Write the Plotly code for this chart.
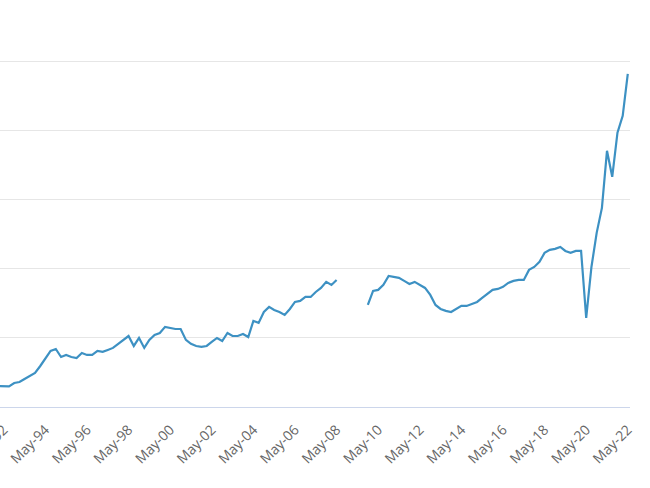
import pandas as pd
import plotly.graph_objects as go

# Quarterly observation dates, Feb-1992 .. May-2022
dates = pd.date_range("1992-02-01", "2022-05-01", freq="3MS")

values = [
    15.2, 15.2, 14.9, 17.4, 18.1, 20.3, 22.5, 24.6, 29.7, 35.5,
    40.6, 42.0, 36.2, 37.7, 36.2, 35.5, 39.1, 37.7, 37.7, 40.6,
    39.9, 41.3, 42.8, 45.7, 48.6, 51.4, 44.2, 50.0, 42.8, 48.6,
    52.2, 53.6, 58.0, 57.2, 56.5, 56.5, 48.6, 45.7, 44.2, 43.5,
    44.2, 47.1, 50.0, 47.8, 53.6, 51.4, 51.4, 52.9, 50.7, 62.3,
    60.9, 68.8, 72.5, 70.3, 68.8, 66.7, 71.0, 76.1, 76.8, 79.7,
    79.7, 83.3, 86.2, 90.6, 88.4, 92.0, None, None, None, None,
    None, 73.9, 84.1, 84.8, 88.4, 94.9, 94.2, 93.5, 91.3, 89.1,
    90.6, 88.4, 86.2, 81.2, 73.9, 71.0, 69.6, 68.8, 71.0, 73.2,
    73.2, 74.6, 76.1, 79.0, 81.9, 84.8, 85.5, 87.0, 89.9, 91.3,
    92.0, 92.0, 99.3, 101.4, 105.1, 111.6, 113.8, 114.5, 115.9, 113.0,
    111.6, 113.0, 113.0, 64.5, 101.4, 126.1, 144.2, 185.5, 166.7, 198.6,
    210.9, 241.3,
]

tick_dates = ["%d-05-01" % y for y in range(1992, 2023, 2)]
tick_labels = ["May-%02d" % (y % 100) for y in range(1992, 2023, 2)]

fig = go.Figure()
fig.add_trace(go.Scatter(
    x=dates, y=values, mode="lines",
    line=dict(color="#3d91c3", width=2.2),
    connectgaps=False, showlegend=False, hoverinfo="skip",
))

fig.update_layout(
    width=650, height=488,
    margin=dict(l=0, r=20, t=59, b=81),
    paper_bgcolor="white", plot_bgcolor="white",
    font=dict(family="Open Sans, Noto Sans, sans-serif", size=14, color="#666666"),
)
fig.update_xaxes(
    range=["1992-02-25", "2022-06-09"],
    tickvals=tick_dates, ticktext=tick_labels, tickangle=-45,
    ticklabeloverflow="allow", automargin=False,
    showgrid=False, showline=True, linecolor="#ccd6eb", linewidth=1,
    ticks="outside", ticklen=8, tickcolor="rgba(0,0,0,0)",
    tickfont=dict(size=14, color="#666666"),
)
fig.update_yaxes(
    range=[0, 252], tickvals=[50, 100, 150, 200, 250],
    showgrid=True, gridcolor="#e6e6e6", gridwidth=1,
    zeroline=False, showticklabels=False, automargin=False,
)

fig.write_html("out.html")
